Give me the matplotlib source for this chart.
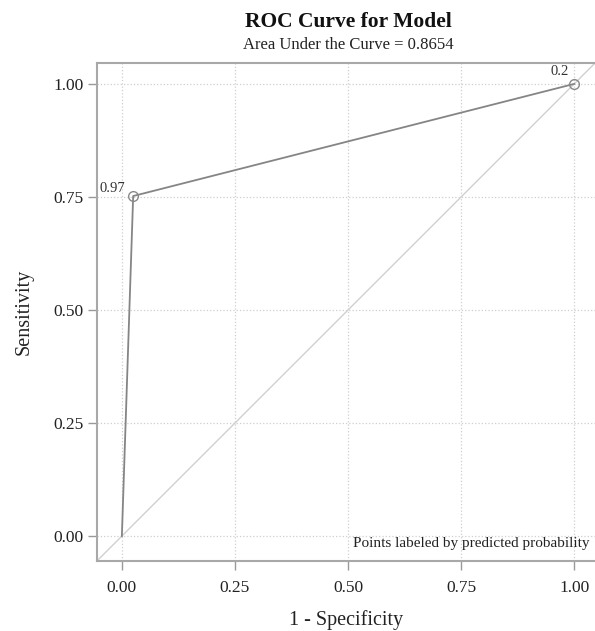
import matplotlib
matplotlib.use("Agg")
import matplotlib.pyplot as plt

fpr = [0.0, 0.025, 1.0]
tpr = [0.0, 0.752, 1.0]
labeled_idx = [1, 2]
point_labels = ["0.97", "0.2"]
ticks = [0.0, 0.25, 0.5, 0.75, 1.0]
tick_labels = ["0.00", "0.25", "0.50", "0.75", "1.00"]
auc_text = "Area Under the Curve = 0.8654"

plt.rcParams['font.family'] = ['Liberation Serif', 'DejaVu Serif']

fig = plt.figure(figsize=(5.95, 6.31), dpi=100)
ax = fig.add_axes([0.163, 0.111, 0.837, 0.789])
lo, hi = -0.055, 1.046
ax.set_xlim(lo, hi)
ax.set_ylim(lo, hi)

ax.plot([lo, hi], [lo, hi], color='#d0d0d0', lw=1.0, zorder=2)
ax.plot(fpr, tpr, color='#858585', lw=1.3, zorder=3)
ax.plot([fpr[i] for i in labeled_idx], [tpr[i] for i in labeled_idx], 'o',
        ms=7, mfc='none', mec='#8a8a8a', mew=1.0, zorder=4)
offsets = [(-6, 1), (-4, 4)]
for i, lab, off in zip(labeled_idx, point_labels, offsets):
    ax.annotate(lab, (fpr[i], tpr[i]), xytext=off, textcoords='offset points',
                ha='right', va='bottom', fontsize=10.5, color='#333333')

ax.set_xticks(ticks)
ax.set_xticklabels(tick_labels)
ax.set_yticks(ticks)
ax.set_yticklabels(tick_labels)
ax.tick_params(direction='out', length=6.5, width=1, color='#999999',
               labelsize=12.5, labelcolor='#222222')
ax.tick_params(axis='x', pad=7)
ax.tick_params(axis='y', pad=3)
ax.grid(True, linestyle=':', color='#cfcfcf', lw=0.9)
ax.set_axisbelow(True)
for s in ['left', 'bottom', 'top']:
    ax.spines[s].set_color('#a8a8a8')
    ax.spines[s].set_linewidth(1.5)
ax.spines['right'].set_visible(False)

ax.set_xlabel("1 - Specificity", fontsize=14.5, color='#222222', labelpad=10)
ax.set_ylabel("Sensitivity", fontsize=14.5, color='#222222', labelpad=14)

fig.text(0.585, 0.965, "ROC Curve for Model", ha='center', va='center',
         fontsize=15.5, fontweight='bold', color='#111111')
fig.text(0.585, 0.929, auc_text, ha='center', va='center', fontsize=12, color='#222222')
ax.text(0.988, 0.022, "Points labeled by predicted probability", transform=ax.transAxes,
        ha='right', va='bottom', fontsize=11, color='#222222')

fig.savefig("out.png", dpi=100)
